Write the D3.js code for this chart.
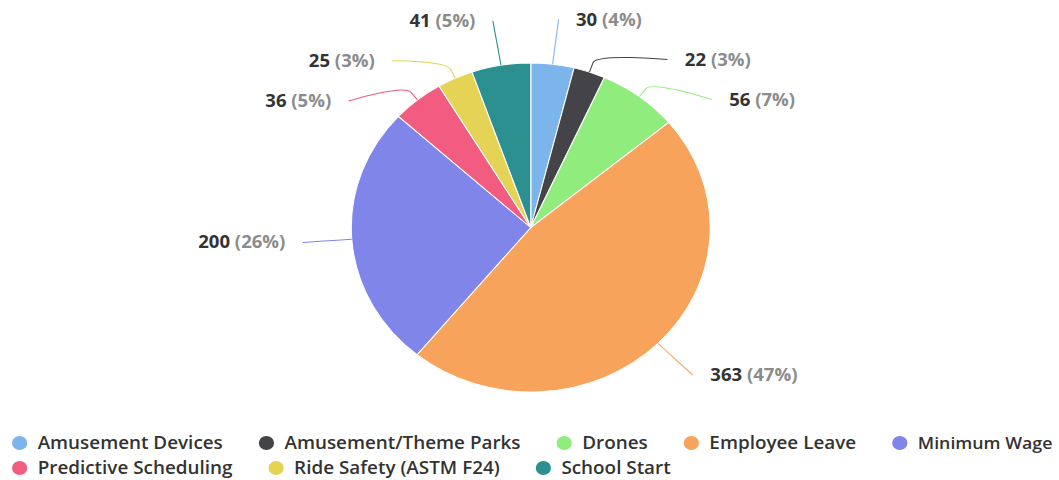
<!DOCTYPE html>
<html>
<head>
<meta charset="utf-8">
<script src="https://cdn.jsdelivr.net/npm/d3@7"></script>
<style>
  body { margin: 0; background: #fff; }
  svg { font-family: "Open Sans", "Noto Sans", sans-serif; }
</style>
</head>
<body>
<div id="chart"></div>
<script>
// data
const categories = ["Amusement Devices", "Amusement/Theme Parks", "Drones", "Employee Leave",
  "Minimum Wage", "Predictive Scheduling", "Ride Safety (ASTM F24)", "School Start"];
const values = [30, 22, 56, 363, 200, 36, 25, 41];
const colors = ["#7cb5ec", "#434348", "#90ed7d", "#f7a35c", "#8085e9", "#f15c80", "#e4d354", "#2b908f"];

const width = 1059;
const height = 480;
// the reference is a little wider than tall, so draw in a narrower space and stretch it
const stretch = 1.091;
const innerW = width / stretch;

const cx = 486.5, cy = 227.5, radius = 164.5;
const labelDistance = 45;
const labelGap = 40;

const svg = d3.select("#chart")
  .append("svg")
  .attr("width", width)
  .attr("height", height);

const root = svg.append("g")
  .attr("transform", `scale(${stretch},1)`);

const total = d3.sum(values);
const pie = d3.pie().sort(null).value(d => d);
const arcs = pie(values);

const arcGen = d3.arc().innerRadius(0).outerRadius(radius);

const pieG = root.append("g")
  .attr("transform", `translate(${cx},${cy})`);

pieG.selectAll("path")
  .data(arcs)
  .join("path")
  .attr("d", arcGen)
  .attr("fill", (d, i) => colors[i])
  .attr("stroke", "#fff")
  .attr("stroke-width", 1);

// label positions, pushed apart on each side like the original
const R = radius + labelDistance;
const labels = arcs.map((d, i) => {
  const mid = (d.startAngle + d.endAngle) / 2;
  return {
    i: i,
    mid: mid,
    side: Math.sin(mid) >= 0 ? 1 : -1,
    y: cy - R * Math.cos(mid)
  };
});

[1, -1].forEach(side => {
  const group = labels.filter(l => l.side === side).sort((a, b) => a.y - b.y);
  for (let k = 1; k < group.length; k++) {
    if (group[k].y < group[k - 1].y + labelGap) group[k].y = group[k - 1].y + labelGap;
  }
});

labels.forEach(l => {
  const dy = Math.max(-R, Math.min(R, l.y - cy));
  l.x = cx + l.side * Math.sqrt(R * R - dy * dy);
  l.ex = cx + radius * Math.sin(l.mid);
  l.ey = cy - radius * Math.cos(l.mid);
  l.bx = cx + (radius + 10) * Math.sin(l.mid);
  l.by = cy - (radius + 10) * Math.cos(l.mid);
});

root.selectAll(".connector")
  .data(labels)
  .join("path")
  .attr("class", "connector")
  .attr("fill", "none")
  .attr("stroke", d => colors[d.i])
  .attr("stroke-width", 1)
  .attr("d", d => `M${d.x},${d.y} C${d.x},${d.y} ${2 * d.bx - d.ex},${2 * d.by - d.ey} ${d.bx},${d.by} L${d.ex},${d.ey}`);

const labelText = root.selectAll(".dlabel")
  .data(labels)
  .join("text")
  .attr("class", "dlabel")
  .attr("x", d => d.x + d.side * 16)
  .attr("y", d => d.y)
  .attr("dy", "0.35em")
  .attr("text-anchor", d => d.side > 0 ? "start" : "end")
  .style("font-size", "17px")
  .style("font-weight", 700);

labelText.append("tspan")
  .attr("fill", "#333")
  .text(d => values[d.i]);

labelText.append("tspan")
  .attr("fill", "#8c8c8c")
  .text(d => " (" + Math.round(values[d.i] / total * 100) + "%)");

// legend, flowed into rows
const legendLeft = 11;
const legendRight = innerW - 6;
const legendFont = 17.3;
const legendRows = [443, 468];
const legend = root.append("g");

let lx = legendLeft, row = 0;
categories.forEach((name, i) => {
  const item = legend.append("g");
  item.append("circle")
    .attr("r", 7)
    .attr("fill", colors[i]);
  const t = item.append("text")
    .attr("x", 16.5)
    .attr("dy", "0.35em")
    .attr("fill", "#333")
    .style("font-size", legendFont + "px")
    .style("font-weight", 600)
    .text(name);
  let tw = t.node().getComputedTextLength();
  if (lx + 7 + 16.5 + tw > legendRight + 12 && lx > legendLeft) {
    row += 1;
    lx = legendLeft;
  }
  // shrink the last item a touch if it would run past the edge
  if (lx + 7 + 16.5 + tw > legendRight) {
    const fit = legendRight - (lx + 7) - 16.5;
    t.style("font-size", (legendFont * fit / tw) + "px");
    tw = t.node().getComputedTextLength();
  }
  item.attr("transform", `translate(${lx + 7},${legendRows[row]})`);
  lx += 7 + 16.5 + tw + 33;
});
</script>
</body>
</html>
